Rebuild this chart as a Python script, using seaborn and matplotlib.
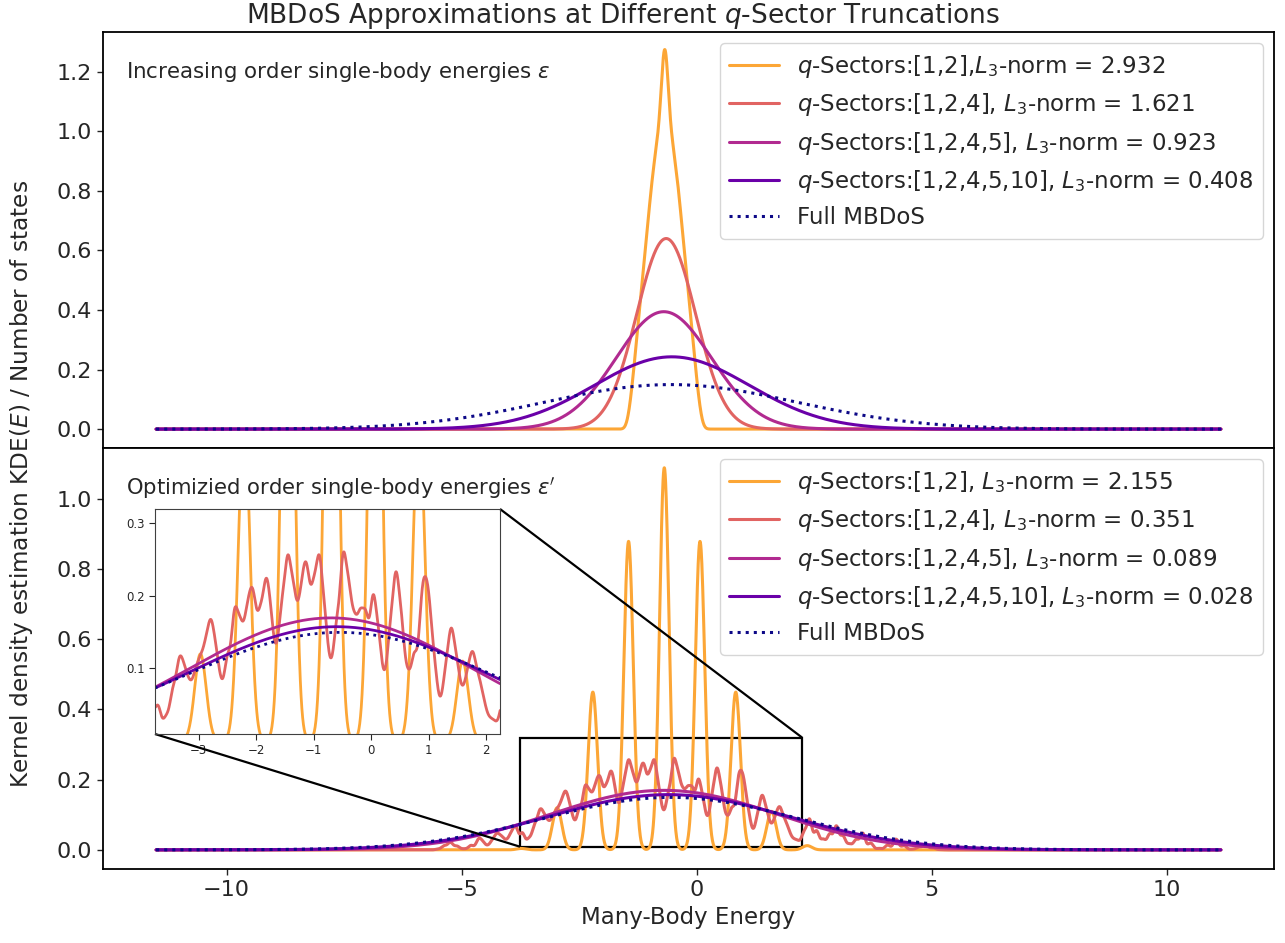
import numpy as np
import matplotlib
matplotlib.use("Agg")
import matplotlib.pyplot as plt
import seaborn as sns
from mpl_toolkits.axes_grid1.inset_locator import mark_inset

sns.set_style("ticks")
plt.rcParams["font.family"] = ["DejaVu Sans"]
plt.rcParams["mathtext.fontset"] = "dejavusans"

# ---------------- data ----------------
CLIP = (-11.5, 11.15)

COLORS = ["#fca636", "#e16462", "#b12a90", "#6a00a8", "#0d0887"]

top_labels = [
    r"$q$-Sectors:[1,2],$L_3$-norm = 2.932",
    r"$q$-Sectors:[1,2,4], $L_3$-norm = 1.621",
    r"$q$-Sectors:[1,2,4,5], $L_3$-norm = 0.923",
    r"$q$-Sectors:[1,2,4,5,10], $L_3$-norm = 0.408",
    "Full MBDoS",
]
bottom_labels = [
    r"$q$-Sectors:[1,2], $L_3$-norm = 2.155",
    r"$q$-Sectors:[1,2,4], $L_3$-norm = 0.351",
    r"$q$-Sectors:[1,2,4,5], $L_3$-norm = 0.089",
    r"$q$-Sectors:[1,2,4,5,10], $L_3$-norm = 0.028",
    "Full MBDoS",
]

# Increasing-order panel: energy levels, weights (number of states), KDE bandwidth
top_orange_E = [-1.40, -1.32, -1.24, -1.16, -1.08, -1.00, -0.92, -0.84, -0.76,
                -0.68, -0.60, -0.52, -0.44, -0.36, -0.28, -0.20, -0.12, -0.04,
                0.04]
top_orange_W = [0.11, 0.25, 0.40, 0.54, 0.68, 0.83, 0.97, 1.06, 1.10,
                1.74, 1.10, 1.06, 0.97, 0.83, 0.68, 0.54, 0.40, 0.25,
                0.11]
top_orange_bw = 0.07

top_red_E = [-0.95, -0.65, -0.35]
top_red_W = [1.0, 2.0, 1.0]
top_red_bw = 0.585

top_mag_E = [-1.20, -0.70, -0.20]
top_mag_W = [1.0, 2.0, 1.0]
top_mag_bw = 0.946

top_pur_E = [-1.33, -0.53, 0.27]
top_pur_W = [1.0, 2.0, 1.0]
top_pur_bw = 1.54

full_E = [-1.85, -0.55, 0.75]
full_W = [1.0, 2.0, 1.0]
full_bw = 2.50

# Optimized-order panel
bot_orange_E = [-3.73, -2.97, -2.21, -1.45, -0.69, 0.07, 0.83, 1.59, 2.35]
bot_orange_W = [0.004, 0.12, 0.45, 0.88, 1.09, 0.88, 0.45, 0.11, 0.012]
bot_orange_bw = 0.10

bot_red_E = [-5.50, -5.37, -5.24, -5.10, -4.95, -4.80, -4.64, -4.55, -4.45,
             -4.35, -4.25, -4.15, -4.05, -3.95, -3.85, -3.71, -3.57, -3.45,
             -3.34, -3.25, -3.16, -3.06, -2.97, -2.88, -2.79, -2.70, -2.61,
             -2.50, -2.38, -2.28, -2.18, -2.10, -2.03, -1.93, -1.83, -1.74,
             -1.64, -1.55, -1.45, -1.35, -1.25, -1.17, -1.10, -1.00, -0.90,
             -0.80, -0.70, -0.60, -0.49, -0.39, -0.29, -0.19, -0.09, 0.03,
             0.13, 0.23, 0.33, 0.43, 0.53, 0.64, 0.75, 0.87, 0.94,
             1.01, 1.10, 1.19, 1.29, 1.39, 1.49, 1.59, 1.68, 1.77,
             1.87, 1.96, 2.06, 2.15, 2.28, 2.40, 2.55, 2.69, 2.83,
             2.97, 3.11, 3.25, 3.39, 3.53, 3.70, 3.88, 4.06, 4.24,
             4.41, 4.59, 4.73, 4.87, 5.03, 5.20]
bot_red_W = [0.003, 0.016, 0.030, 0.015, 0.004, 0.018, 0.040, 0.024, 0.010,
             0.030, 0.055, 0.042, 0.026, 0.052, 0.085, 0.066, 0.040, 0.085,
             0.128, 0.098, 0.078, 0.098, 0.110, 0.130, 0.175, 0.125, 0.074,
             0.142, 0.215, 0.175, 0.163, 0.168, 0.172, 0.190, 0.242, 0.175,
             0.112, 0.200, 0.290, 0.225, 0.175, 0.195, 0.205, 0.230, 0.292,
             0.180, 0.095, 0.185, 0.305, 0.230, 0.176, 0.192, 0.200, 0.242,
             0.160, 0.078, 0.170, 0.270, 0.185, 0.100, 0.145, 0.188, 0.165,
             0.175, 0.110, 0.040, 0.105, 0.182, 0.120, 0.062, 0.095, 0.135,
             0.090, 0.055, 0.030, 0.028, 0.065, 0.120, 0.075, 0.040, 0.062,
             0.095, 0.055, 0.022, 0.040, 0.068, 0.028, 0.006, 0.020, 0.044,
             0.017, 0.003, 0.011, 0.022, 0.008, 0.001]
bot_red_bw = 0.055

bot_mag_E = [-2.20, -0.70, 0.80]
bot_mag_W = [1.0, 1.2, 1.0]
bot_mag_bw = 1.99

bot_pur_E = [-1.90, -0.60, 0.70]
bot_pur_W = [1.0, 2.0, 1.0]
bot_pur_bw = 2.357

top_curves = [
    (top_orange_E, top_orange_W, top_orange_bw),
    (top_red_E, top_red_W, top_red_bw),
    (top_mag_E, top_mag_W, top_mag_bw),
    (top_pur_E, top_pur_W, top_pur_bw),
    (full_E, full_W, full_bw),
]
bottom_curves = [
    (bot_orange_E, bot_orange_W, bot_orange_bw),
    (bot_red_E, bot_red_W, bot_red_bw),
    (bot_mag_E, bot_mag_W, bot_mag_bw),
    (bot_pur_E, bot_pur_W, bot_pur_bw),
    (full_E, full_W, full_bw),
]

FS = 16


def kde_line(ax, levels, weights, bw, color, ls="-", label=None, lw=2.2):
    lv = np.asarray(levels, float)
    w = np.asarray(weights, float)
    sd = np.sqrt(np.cov(lv, aweights=w))
    sns.kdeplot(x=lv, weights=w, bw_method=bw / sd, clip=CLIP, cut=200,
                gridsize=5000, color=color, linestyle=ls, lw=lw,
                label=label, ax=ax)


fig = plt.figure(figsize=(12.85, 9.43), dpi=100)
gs = fig.add_gridspec(2, 1, height_ratios=[416, 421], hspace=0,
                      left=103 / 1285, right=1274 / 1285,
                      top=1 - 32 / 943, bottom=1 - 869 / 943)
ax1 = fig.add_subplot(gs[0])
ax2 = fig.add_subplot(gs[1], sharex=ax1)

for ax, curves, labels in [(ax1, top_curves, top_labels),
                           (ax2, bottom_curves, bottom_labels)]:
    for i, (E, W, bw) in enumerate(curves):
        ls = ":" if i == 4 else "-"
        kde_line(ax, E, W, bw, COLORS[i], ls=ls, label=labels[i])
    ax.set_ylabel("")
    ax.legend(loc="upper right", fontsize=16.5, frameon=True,
              edgecolor="0.8", fancybox=True, labelspacing=0.5,
              handlelength=2.15)
    ax.tick_params(labelsize=FS, width=1.0, length=4.5)
    for s in ax.spines.values():
        s.set_linewidth(1.3)
        s.set_color("black")

ax1.set_xlim(-12.63, 12.28)
ax1.set_ylim(-0.0635, 1.3335)
ax2.set_ylim(-0.0545, 1.1445)
ax1.set_yticks([0.0, 0.2, 0.4, 0.6, 0.8, 1.0, 1.2])
ax2.set_yticks([0.0, 0.2, 0.4, 0.6, 0.8, 1.0])
ax2.set_xticks([-10, -5, 0, 5, 10])
ax1.tick_params(axis="x", bottom=False, labelbottom=False)
ax2.set_xlabel("Many-Body Energy", fontsize=16.5)

ax1.text(0.02, 0.904, r"Increasing order single-body energies $\varepsilon$",
         transform=ax1.transAxes, fontsize=15.4, va="center", ha="left")
ax2.text(0.02, 0.905, r"Optimizied order single-body energies $\varepsilon'$",
         transform=ax2.transAxes, fontsize=15.2, va="center", ha="left")

fig.text(0.485, 1 - 16 / 943,
         r"MBDoS Approximations at Different $q$-Sector Truncations",
         fontsize=19, ha="center", va="center")
fig.text(22 / 1285, 1 - 484 / 943,
         r"Kernel density estimation KDE($E$) / Number of states",
         fontsize=16.7, rotation=90, ha="center", va="center")

# inset
axins = fig.add_axes([155 / 1285, 1 - 734 / 943, 345 / 1285, 225 / 943])
for i, (E, W, bw) in enumerate(bottom_curves):
    ls = ":" if i == 4 else "-"
    kde_line(axins, E, W, bw, COLORS[i], ls=ls, lw=2.0)
axins.set_xlim(-3.76, 2.24)
axins.set_ylim(0.009, 0.32)
axins.set_xticks([-3, -2, -1, 0, 1, 2])
axins.set_yticks([0.1, 0.2, 0.3])
axins.set_ylabel("")
axins.tick_params(labelsize=8.5, length=4, width=0.8)
for s in axins.spines.values():
    s.set_linewidth(0.8)
    s.set_color("0.25")
mark_inset(ax2, axins, loc1=1, loc2=3, fc="none", ec="black", lw=1.6)

fig.savefig("out.png", dpi=100)
